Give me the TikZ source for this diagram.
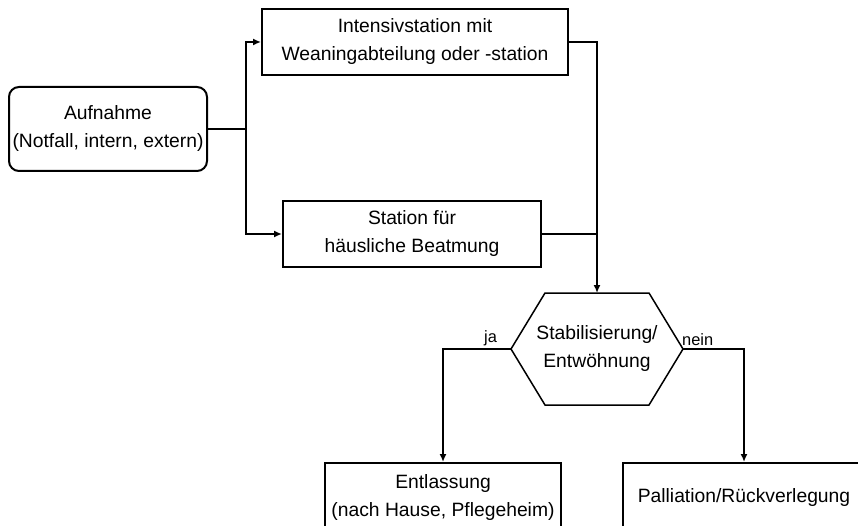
\documentclass[tikz,border=0pt]{standalone}
\usepackage{fontspec}
\setmainfont{Liberation Sans}
\usepackage{tikz}
\usetikzlibrary{positioning, arrows, arrows.meta}

\begin{document}
\begin{tikzpicture}[
            x=1pt, y=-1pt,
            font=\fontsize{19.3}{28}\selectfont,
            line width=2pt,
            >={Latex[length=8pt, width=7pt]},
            box/.style={rectangle, draw, align=center, inner sep=0pt},
            small/.style={font=\fontsize{16.4}{20}\selectfont, inner sep=2pt},
        ]
            \useasboundingbox (0,0) rectangle (858,526);

            \node[box, rounded corners=10pt, minimum width=198pt, minimum height=84pt] (aufnahme) at (108,129) {Aufnahme\\(Notfall, intern, extern)};
            \node[box, minimum width=306pt, minimum height=66pt] (intensiv) at (415,42) {Intensivstation mit\\Weaningabteilung oder -station};
            \node[box, minimum width=258pt, minimum height=66pt] (station) at (412,234) {Station für\\häusliche Beatmung};
            \node[align=center, inner sep=0pt, minimum width=170pt, minimum height=110pt] (stab) at (597,349) {Stabilisierung/\\Entwöhnung};
            \draw[line width=1.5pt] (stab.west) -- ([xshift=34pt]stab.north west) -- ([xshift=-34pt]stab.north east)
                -- (stab.east) -- ([xshift=-34pt]stab.south east) -- ([xshift=34pt]stab.south west) -- cycle;
            \node[box, minimum width=236pt, minimum height=70pt] (entlassung) at (443,498) {Entlassung\\(nach Hause, Pflegeheim)};
            \node[box, minimum width=242pt, minimum height=70pt] (palliation) at (744,498) {Palliation/Rückverlegung};

            % Verbindungen
            \draw (aufnahme.east) -- ++(38,0) coordinate (split);
            \draw[->] (split) |- (intensiv.west);
            \draw[->] (split) |- (station.west);
            \draw[->] (intensiv.east) -| (stab.north);
            \draw (station.east) -- (station.east -| stab.north);
            \draw[->] (stab.west) -| node[small, pos=0.15, above] {ja} (entlassung.north);
            \draw[->] (stab.east) -| node[small, pos=0.12, above] {nein} (palliation.north);
        \end{tikzpicture}
\end{document}
